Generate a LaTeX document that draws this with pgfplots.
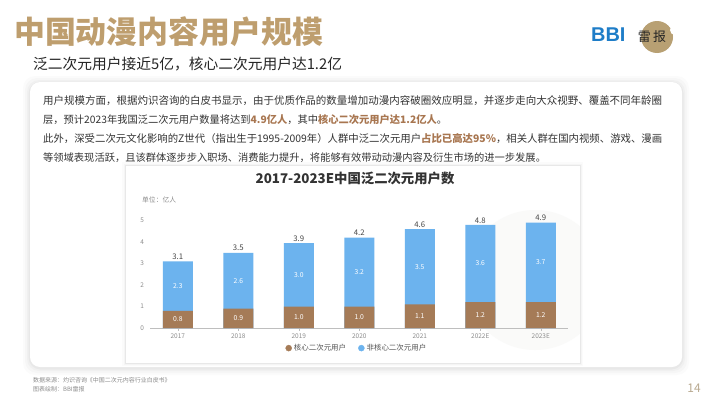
\documentclass[border=0pt]{standalone}
\usepackage{pgfplots}
\pgfplotsset{compat=1.18}
\usepackage{pgfplotstable}
\usepackage{graphicx}
\usepackage{fontspec}
\setmainfont{Noto Sans CJK SC}
\newfontfamily\latinsans{Liberation Sans}
\definecolor{gold}{RGB}{190,158,110}
\definecolor{corec}{RGB}{165,123,87}
\definecolor{bluec}{RGB}{108,179,238}
\definecolor{hl}{RGB}{168,118,80}
\definecolor{txt}{RGB}{51,51,51}
\definecolor{lgray}{RGB}{140,140,140}
\definecolor{bbiblue}{RGB}{30,125,200}
\definecolor{logogold}{RGB}{184,160,115}
\definecolor{panelborder}{RGB}{232,232,232}
\definecolor{wcirc}{RGB}{250,250,249}
\definecolor{axisgray}{RGB}{190,190,190}
\definecolor{pagec}{RGB}{185,170,145}
\pgfplotstableread{
x core corel non nonl tot totl
0 0.8 0.8 2.3 2.3 3.1 3.1
1 0.9 0.9 2.6 2.6 3.5 3.5
2 1.0 1.0 2.95 3.0 3.95 3.9
3 1.0 1.0 3.2 3.2 4.2 4.2
4 1.1 1.1 3.5 3.5 4.6 4.6
5 1.2 1.2 3.6 3.6 4.8 4.8
6 1.2 1.2 3.7 3.7 4.9 4.9
}\usersdata
\begin{document}
\begin{tikzpicture}
\fill[white] (0,0) rectangle (710bp,-399bp);
% titles
\node[anchor=west, inner sep=0, text=gold, font=\fontsize{31}{31}\selectfont\bfseries] at (14bp,-32bp) {中国动漫内容用户规模};
\node[anchor=west, inner sep=0, text=black!85, font=\fontsize{14.8}{15}\selectfont] at (33bp,-64bp) {泛二次元用户接近5亿，核心二次元用户达1.2亿};
% logo
\fill[logogold] (657bp,-37bp) circle (16bp);
\fill[white] (675bp,-30bp) circle (5bp);
\node[anchor=west, inner sep=0, text=bbiblue, font=\latinsans\fontsize{20}{20}\selectfont\bfseries] at (591bp,-35bp) {BBI};
\node[anchor=center, inner sep=0, text=black!85, font=\fontsize{13}{13}\selectfont] at (652bp,-37bp) {雷\,报};
% card with shadow
\foreach \s/\o in {7/0.015,5/0.02,3/0.025,1.5/0.03}{
  \fill[black,opacity=\o,rounded corners=12bp] (30bp-\s bp,-82bp+\s bp-1bp) rectangle (682bp+\s bp,-367bp-\s bp-1bp);
}
\fill[white,rounded corners=10bp] (30bp,-82bp) rectangle (682bp,-367bp);
% paragraph
\begin{scope}[every node/.style={anchor=west, inner sep=0, text=txt}]
\node at (43bp,-101bp) {\resizebox{619bp}{!}{\fontsize{10.3}{12}\selectfont 用户规模方面，根据灼识咨询的白皮书显示，由于优质作品的数量增加动漫内容破圈效应明显，并逐步走向大众视野、覆盖不同年龄圈}};
\node at (43bp,-120bp) {\fontsize{10.3}{12}\selectfont 层，预计2023年我国泛二次元用户数量将达到{\bfseries\color{hl}4.9亿人}，其中{\bfseries\color{hl}核心二次元用户达1.2亿人}。};
\node at (43bp,-139bp) {\resizebox{619bp}{!}{\fontsize{10.3}{12}\selectfont 此外，深受二次元文化影响的Z世代（指出生于1995-2009年）人群中泛二次元用户{\bfseries\color{hl}占比已高达95\%}，相关人群在国内视频、游戏、漫画}};
\node at (43bp,-158bp) {\fontsize{10.3}{12}\selectfont 等领域表现活跃，且该群体逐步步入职场、消费能力提升，将能够有效带动动漫内容及衍生市场的进一步发展。};
\end{scope}
% chart panel
\foreach \s/\o in {3/0.015,1.5/0.025}{
  \fill[black,opacity=\o] (125bp-\s bp,-165bp+\s bp) rectangle (580bp+\s bp,-363bp-\s bp);
}
\fill[white] (125bp,-165bp) rectangle (580bp,-363bp);
% faint watermark circle, clipped to the panel
\begin{scope}
\clip (125bp,-165bp) rectangle (580bp,-363bp);
\fill[wcirc] (535bp,-280bp) circle (70bp);
\end{scope}
\draw[panelborder, line width=0.5bp] (125bp,-165bp) rectangle (580bp,-363bp);
\node[inner sep=0, text=txt, font=\fontsize{13.4}{14}\selectfont\bfseries] at (355bp,-178bp) {2017-2023E中国泛二次元用户数};
\node[anchor=west, inner sep=0, text=lgray, font=\fontsize{6.8}{7}\selectfont] at (142bp,-200bp) {单位：亿人};
\begin{axis}[
  at={(150bp,-328bp)}, anchor=south west,
  scale only axis, width=418bp, height=111.8bp,
  xmin=-0.46, xmax=6.45, ymin=0, ymax=5.2,
  clip=false,
  axis x line*=bottom, axis y line*=left,
  y axis line style={draw=none},
  x axis line style={draw=axisgray, line width=0.6bp},
  xtick={0,...,6}, xticklabels={2017,2018,2019,2020,2021,2022E,2023E},
  ytick={0,...,5},
  xtick style={draw=axisgray, line width=0.5bp},
  ytick style={draw=none},
  tick align=outside, major tick length=2.5bp,
  ticklabel style={font=\fontsize{6.5}{7}\selectfont, text=lgray},
  /pgf/number format/assume math mode=true,
  legend style={at={(axis description cs:0.495,-0.18)}, anchor=center, draw=none, fill=none,
    font=\fontsize{7.5}{8}\selectfont, text=txt!85, legend columns=2,
    /tikz/every even column/.append style={column sep=10bp}},
]
\addplot[ybar, bar width=30bp, bar shift=0pt, fill=bluec, draw=none, forget plot,
  nodes near coords, point meta=explicit symbolic,
  every node near coord/.append style={font=\fontsize{7.8}{8}\selectfont, text=txt!90, inner sep=1.5bp}]
  table[x=x, y=tot, meta=totl] {\usersdata};
\addplot[ybar, bar width=30bp, bar shift=0pt, fill=corec, draw=none, forget plot]
  table[x=x, y=core] {\usersdata};
\addplot[draw=none, mark=none, forget plot,
  nodes near coords, point meta=explicit symbolic,
  every node near coord/.append style={font=\fontsize{6.8}{7}\selectfont, text=white, anchor=center}]
  table[x=x, y expr=\thisrow{core}/2, meta=corel] {\usersdata};
\addplot[draw=none, mark=none, forget plot,
  nodes near coords, point meta=explicit symbolic,
  every node near coord/.append style={font=\fontsize{6.8}{7}\selectfont, text=white, anchor=center}]
  table[x=x, y expr=\thisrow{core}+\thisrow{non}/2, meta=nonl] {\usersdata};
\addlegendimage{legend image code/.code={\fill[corec] (0.3em,0) circle (3bp);}}
\addlegendentry{核心二次元用户}
\addlegendimage{legend image code/.code={\fill[bluec] (0.3em,0) circle (3bp);}}
\addlegendentry{非核心二次元用户}
\end{axis}
% footer
\node[anchor=west, inner sep=0, text=lgray, font=\fontsize{6}{6}\selectfont] at (33bp,-380bp) {数据来源：灼识咨询《中国二次元内容行业白皮书》};
\node[anchor=west, inner sep=0, text=lgray, font=\fontsize{6}{6}\selectfont] at (33bp,-389bp) {图表绘制：BBI雷报};
\node[inner sep=0, text=pagec, font=\fontsize{12}{12}\selectfont] at (694bp,-388bp) {14};
\end{tikzpicture}
\end{document}
